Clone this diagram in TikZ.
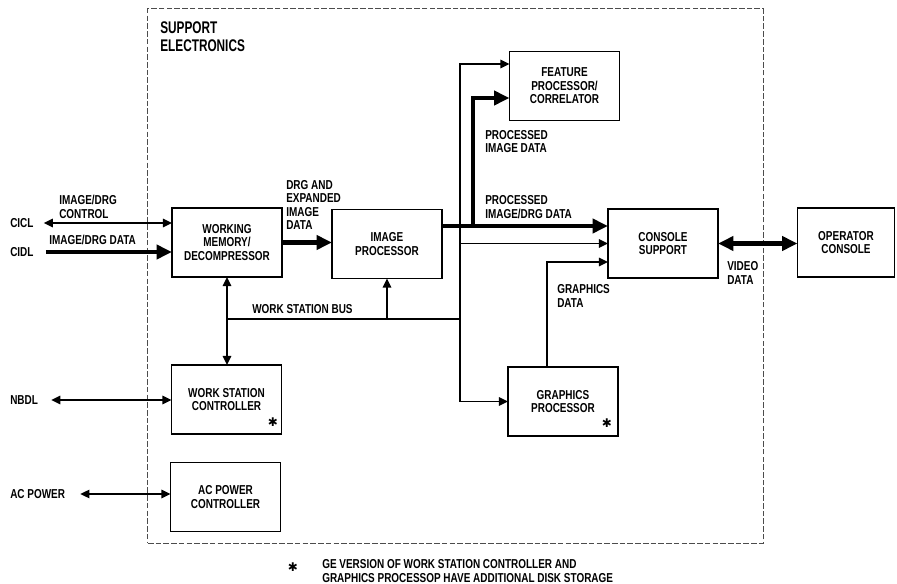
\documentclass[tikz,border=0pt]{standalone}
\usepackage{fontspec}
\setmainfont{Liberation Sans}[FakeStretch=0.77]
\newfontfamily\titlefont{Liberation Sans}[FakeStretch=0.7]
\newfontfamily\symfont{DejaVu Sans}
\usetikzlibrary{arrows.meta,positioning,calc}

\begin{document}
\begin{tikzpicture}[x=0.025cm, y=-0.025cm,
    box/.style={rectangle, draw, line width=1pt, minimum width=2.75cm, minimum height=1.72cm, inner sep=0pt, outer sep=0pt, align=center, font=\fontsize{9.2}{9.6}\selectfont\bfseries},
    lbl/.style={anchor=west, align=left, inner sep=0pt, font=\fontsize{9.2}{9.6}\selectfont\bfseries},
    frame/.style={draw=black!70, line width=0.7pt, dash pattern=on 4pt off 1.5pt, minimum width=15.375cm, minimum height=13.35cm, inner sep=0pt},
    asterisk/.style={inner sep=0pt, font=\symfont\fontsize{8.5}{8.5}\selectfont},
    bus/.style={line width=1.3pt},
    arrow/.style={bus, -{Triangle[length=6.5pt,width=6pt]}},
    darrow/.style={bus, {Triangle[length=6.5pt,width=6pt]}-{Triangle[length=6.5pt,width=6pt]}},
    fat/.style={line width=3.5pt, -{Triangle[length=11pt,width=10pt]}},
    dfat/.style={line width=3.5pt, {Triangle[length=11pt,width=10pt]}-{Triangle[length=11pt,width=10pt]}}
]
\useasboundingbox (0,0) rectangle (897,584);

\node[frame] (se) at (455.5,276) {};
\node[lbl, font=\titlefont\fontsize{12}{13}\selectfont\bfseries] (title) at (160,37) {SUPPORT\\ELECTRONICS};

\node[box] (wm) at (227,242.5) {WORKING\\MEMORY/\\DECOMPRESSOR};
\node[box] (ip) at (387,244) {IMAGE\\PROCESSOR};
\node[box] (fp) at (564.5,86) {FEATURE\\PROCESSOR/\\CORRELATOR};
\node[box] (cs) at (663,243.5) {CONSOLE\\SUPPORT};
\node[box, minimum width=2.425cm] (oc) at (846,242.5) {OPERATOR\\CONSOLE};
\node[box] (wsc) at (226.5,399.5) {WORK STATION\\CONTROLLER};
\node[box] (acp) at (225.5,497) {AC POWER\\CONTROLLER};
\node[box] (gp) at (563,401.5) {GRAPHICS\\PROCESSOR};
\node[asterisk] (wscstar) at (273,422) {✱};
\node[asterisk] (gpstar) at (607,423) {✱};

\node[lbl] (cicl) at (10,223) {CICL};
\node[lbl] (cidl) at (10,252) {CIDL};
\node[lbl] (nbdl) at (10,400) {NBDL};
\node[lbl] (acpw) at (10,494) {AC POWER};
\node[lbl] (ctl) at (59,207) {IMAGE/DRG\\CONTROL};
\node[lbl] (dat) at (49,240) {IMAGE/DRG DATA};
\node[lbl] (exp) at (286,205) {DRG AND\\EXPANDED\\IMAGE\\DATA};
\node[lbl] (pid) at (485,141.5) {PROCESSED\\IMAGE DATA};
\node[lbl] (pdd) at (485,207) {PROCESSED\\IMAGE/DRG DATA};
\node[lbl] (wsb) at (252,309) {WORK STATION BUS};
\node[lbl] (gd) at (557,296) {GRAPHICS\\DATA};
\node[lbl] (vd) at (727,273) {VIDEO\\DATA};

\coordinate (ipo) at (443,226);
\coordinate (fj) at (473,226);
\coordinate (bj) at (460,319);
\coordinate (wj) at (227,319);

\draw[darrow] ($(cicl.east)+(10,0)$) -- (cicl.east -| wm.west);
\draw[fat] ($(cidl.east)+(12,0)$) -- (cidl.east -| wm.west);
\draw[fat] (wm.east) -- (wm.east -| ip.west);
\draw[fat] (ipo) -- (ipo -| cs.west);
\draw[fat] (fj) |- ($(fp.west)+(0,12)$);
\draw[arrow] (bj) |- ($(fp.west)+(0,-22)$);
\draw[arrow] (bj) |- (cs.west);
\draw[arrow] (bj) |- (gp.west);
\draw[bus] (wj) -- (bj);
\draw[arrow] (wj -| ip.south) -- (ip.south);
\draw[darrow] (wm.south) -- (wm.south |- wsc.north);
\draw[arrow] ($(gp.north)+(-16,0)$) |- ($(cs.west)+(0,18.5)$);
\draw[dfat] (cs.east) -- (cs.east -| oc.west);
\draw[darrow] ($(nbdl.east)+(13,0)$) -- (nbdl.east -| wsc.west);
\draw[darrow] ($(acpw.east)+(15,0)$) -- (acpw.east -| acp.west);

\node[asterisk] (fnstar) at (293,567) {✱};
\node[lbl] (fn) at (322,571) {GE VERSION OF WORK STATION CONTROLLER AND\\GRAPHICS PROCESSOP HAVE ADDITIONAL DISK STORAGE};
\end{tikzpicture}
\end{document}
